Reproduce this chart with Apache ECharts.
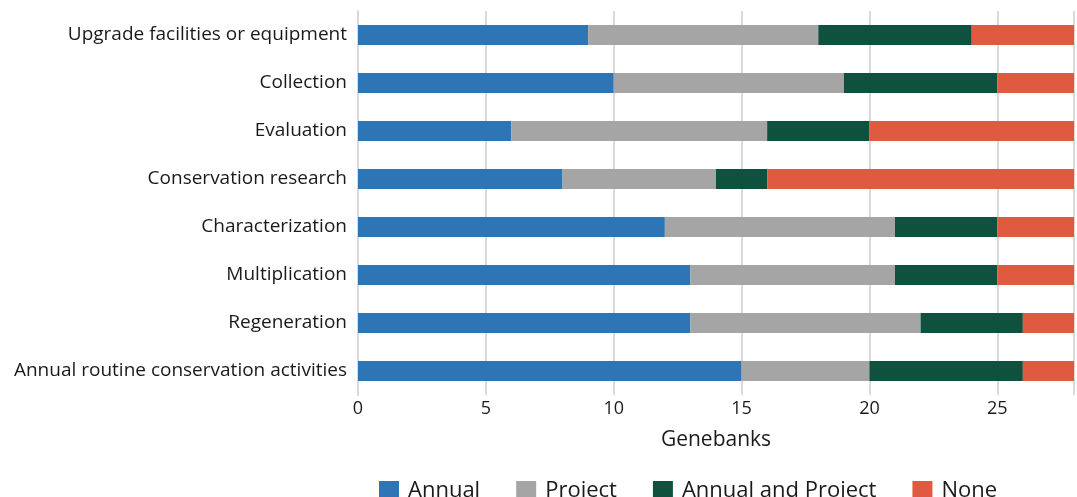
<!DOCTYPE html>
<html>
<head>
<meta charset="utf-8">
<script src="https://cdn.jsdelivr.net/npm/echarts@6/dist/echarts.min.js"></script>
<style>
  html, body { margin: 0; padding: 0; background: #fff; overflow: hidden; }
  #chart { width: 1077px; height: 497px; }
</style>
</head>
<body>
<div id="chart"></div>
<script>
// categories listed bottom to top (yAxis category order)
const categories = [
  'Annual routine conservation activities',
  'Regeneration',
  'Multiplication',
  'Characterization',
  'Conservation research',
  'Evaluation',
  'Collection',
  'Upgrade facilities or equipment'
]
const annual = [15, 13, 13, 12, 8, 6, 10, 9]
const project = [5, 9, 8, 9, 6, 10, 9, 9]
const annualAndProject = [6, 4, 4, 4, 2, 4, 6, 6]
const none = [2, 2, 3, 3, 12, 8, 3, 4]
const xTicks = [0, 5, 10, 15, 20, 25]

const fontFamily = '"Open Sans", "Noto Sans", sans-serif'
const chart = echarts.init(document.getElementById('chart'))

const mkSeries = (name, data, color) => ({
  name,
  type: 'bar',
  stack: 'total',
  barWidth: 20,
  data,
  itemStyle: { color },
  animation: false
})

chart.setOption({
  textStyle: { fontFamily },
  grid: { left: 358, top: 11, width: 726, height: 384, containLabel: false },
  legend: {
    left: 374,
    top: 475,
    itemWidth: 20,
    itemHeight: 20,
    itemGap: 36,
    icon: 'rect',
    textStyle: { fontSize: 22, color: '#1a1a1a', fontFamily, padding: [0, 0, 0, 4] },
    data: ['Annual', 'Project', 'Annual and Project', 'None']
  },
  xAxis: {
    type: 'value',
    min: 0,
    max: 28,
    interval: 5,
    name: 'Genebanks',
    nameLocation: 'middle',
    nameGap: 35,
    nameTextStyle: { fontSize: 21, color: '#1a1a1a', fontFamily },
    axisLine: { show: false },
    axisTick: { show: false },
    axisLabel: {
      fontSize: 18,
      color: '#1a1a1a',
      margin: 5,
      formatter: v => (xTicks.includes(v) ? String(v) : '')
    },
    splitLine: { show: true, lineStyle: { color: '#d9d9d9', width: 2 } }
  },
  yAxis: {
    type: 'category',
    data: categories,
    axisLine: { show: true, lineStyle: { color: '#d9d9d9', width: 2 } },
    axisTick: { show: false },
    axisLabel: { fontSize: 19, color: '#1a1a1a', margin: 11, padding: [5, 0, 0, 0] }
  },
  series: [
    mkSeries('Annual', annual, '#2e75b6'),
    mkSeries('Project', project, '#a5a5a5'),
    mkSeries('Annual and Project', annualAndProject, '#10503f'),
    mkSeries('None', none, '#e05a42')
  ]
})
</script>
</body>
</html>
